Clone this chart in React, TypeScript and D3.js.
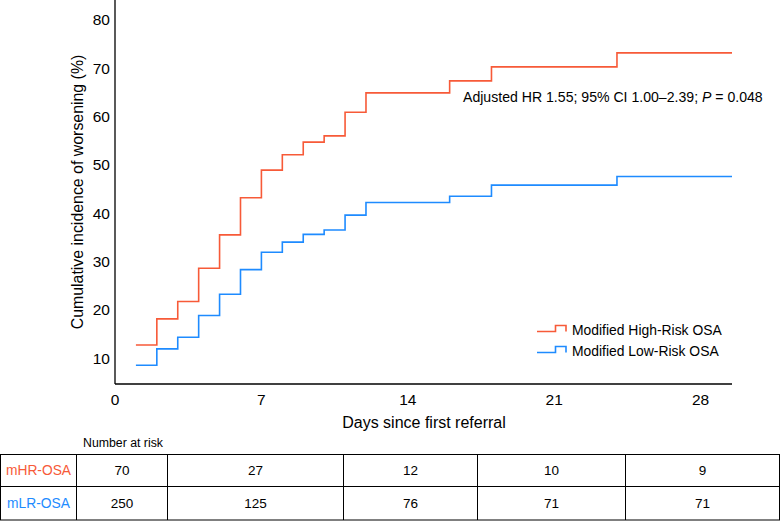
import React from "react";
import * as d3 from "d3";

const xTicks = [0, 7, 14, 21, 28];
const yTicks = [10, 20, 30, 40, 50, 60, 70, 80];

const stepDays = [1, 2, 3, 4, 5, 6, 7, 8, 9, 10, 11, 12, 16, 18, 24];
const hrValues = [12.7, 18.1, 21.7, 28.6, 35.5, 43.2, 48.9, 52.1, 54.7, 56.0, 60.9, 64.9, 67.4, 70.3, 73.2];
const lrValues = [8.5, 11.9, 14.3, 18.8, 23.2, 28.3, 31.9, 34.0, 35.6, 36.5, 39.6, 42.2, 43.5, 45.8, 47.6];
const endDay = 29.5;

const seriesNames = ["Modified High-Risk OSA", "Modified Low-Risk OSA"];
const rowLabels = ["mHR-OSA", "mLR-OSA"];
const riskHR = [70, 27, 12, 10, 9];
const riskLR = [250, 125, 76, 71, 71];

const RED = "#F75A38";
const BLUE = "#1E8BFF";
const FONT = "'Liberation Sans', Arial, Helvetica, sans-serif";

export default function App() {
  const W = 780, H = 521;
  const x = d3.scaleLinear().domain([0, endDay]).range([115, 732]);
  const y = d3.scaleLinear().domain([4.62, 84.14]).range([384, 0]);

  const line = d3
    .line<[number, number]>()
    .x((d) => x(d[0]))
    .y((d) => y(d[1]))
    .curve(d3.curveStepAfter);

  const mk = (vals: number[]): [number, number][] => {
    const pts: [number, number][] = stepDays.map((d, i) => [d, vals[i]]);
    pts.push([endDay, vals[vals.length - 1]]);
    return pts;
  };

  const colEdges = [0.5, 76.5, 167.5, 343.5, 477.5, 625.5, 779.5];
  const rowEdges = [454.5, 486.5, 520];
  const rowMid = [470.5, 503];
  const series = [
    { color: RED, vals: hrValues, risk: riskHR },
    { color: BLUE, vals: lrValues, risk: riskLR },
  ];

  return (
    <svg
      width={W}
      height={H}
      style={{ position: "absolute", left: 0, top: 0, background: "#fff" }}
      fontFamily={FONT}
    >
      {/* axes */}
      <line x1={115} x2={115} y1={0} y2={384} stroke="#000" strokeWidth={1.3} />
      <line x1={115} x2={732} y1={384} y2={384} stroke="#000" strokeWidth={1.3} />
      {yTicks.map((t) => (
        <text key={t} x={110} y={y(t)} textAnchor="end" dominantBaseline="central" fontSize={15.5} fill="#000">
          {t}
        </text>
      ))}
      {xTicks.map((t) => (
        <text key={t} x={x(t)} y={399} textAnchor="middle" dominantBaseline="central" fontSize={15.5} fill="#000">
          {t}
        </text>
      ))}
      <text x={424} y={422} textAnchor="middle" dominantBaseline="central" fontSize={16} fill="#000">
        Days since first referral
      </text>
      <text
        transform={`translate(77,${y((84.14 + 4.62) / 2)}) rotate(-90)`}
        textAnchor="middle"
        dominantBaseline="central"
        fontSize={15.9}
        fill="#000"
      >
        Cumulative incidence of worsening (%)
      </text>

      {/* curves */}
      {series.map((s, i) => (
        <path key={i} d={line(mk(s.vals)) || ""} fill="none" stroke={s.color} strokeWidth={1.6} />
      ))}

      {/* annotation */}
      <text x={463} y={97} dominantBaseline="central" fontSize={14.1} fill="#000">
        Adjusted HR 1.55; 95% CI 1.00–2.39; <tspan fontStyle="italic">P</tspan> = 0.048
      </text>

      {/* legend */}
      {series.map((s, i) => {
        const yl = 331.5 + i * 21;
        return (
          <g key={i}>
            <path
              d={`M537,${yl}H555.5V${yl - 6}H566V${yl}`}
              fill="none"
              stroke={s.color}
              strokeWidth={1.6}
            />
            <text x={572} y={yl - 2} dominantBaseline="central" fontSize={13.9} fill="#000">
              {seriesNames[i]}
            </text>
          </g>
        );
      })}

      {/* number at risk table */}
      <text x={83} y={443} dominantBaseline="central" fontSize={12.3} fill="#000">
        Number at risk
      </text>
      {rowEdges.map((ry, i) => (
        <line key={"r" + i} x1={0} x2={780} y1={ry} y2={ry} stroke="#000" strokeWidth={1} />
      ))}
      {colEdges.map((cx, i) => (
        <line key={"c" + i} x1={cx} x2={cx} y1={454.5} y2={520} stroke="#000" strokeWidth={1} />
      ))}
      {series.map((s, r) => (
        <g key={"row" + r}>
          <text
            x={(colEdges[0] + colEdges[1]) / 2}
            y={rowMid[r]}
            textAnchor="middle"
            dominantBaseline="central"
            fontSize={13.8}
            fill={s.color}
          >
            {rowLabels[r]}
          </text>
          {s.risk.map((v, c) => (
            <text
              key={c}
              x={(colEdges[c + 1] + colEdges[c + 2]) / 2}
              y={rowMid[r]}
              textAnchor="middle"
              dominantBaseline="central"
              fontSize={13.5}
              fill="#000"
            >
              {v}
            </text>
          ))}
        </g>
      ))}
    </svg>
  );
}
